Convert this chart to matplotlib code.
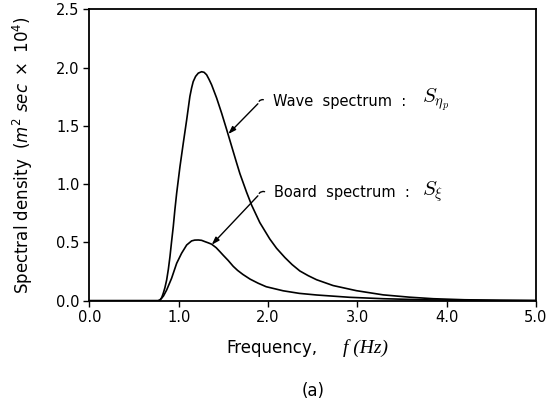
import matplotlib
matplotlib.use("Agg")
import matplotlib.pyplot as plt

# Wave spectrum S_eta_p (frequency in Hz, density in m^2 sec x 10^4)
wave_f = [0.0, 0.70, 0.77, 0.791, 0.81, 0.828, 0.846, 0.866, 0.885, 0.903,
          0.92, 0.94, 0.958, 0.978, 1.015, 1.052, 1.09, 1.126, 1.145, 1.163,
          1.19, 1.22, 1.257, 1.285, 1.313, 1.34, 1.369, 1.425, 1.481, 1.537,
          1.574, 1.611, 1.65, 1.686, 1.761, 1.817, 1.909, 2.02, 2.096, 2.19,
          2.27, 2.357, 2.45, 2.544, 2.729, 2.99, 3.29, 3.587, 3.85, 4.2, 4.6,
          5.0]
wave_s = [0.0, 0.0, 0.0, 0.006, 0.025, 0.064, 0.11, 0.178, 0.27, 0.378,
          0.50, 0.636, 0.78, 0.923, 1.151, 1.352, 1.552, 1.753, 1.825, 1.88,
          1.925, 1.953, 1.965, 1.96, 1.939, 1.90, 1.853, 1.74, 1.61, 1.47,
          1.375, 1.28, 1.18, 1.09, 0.93, 0.82, 0.67, 0.53, 0.45, 0.37,
          0.31, 0.255, 0.215, 0.18, 0.13, 0.086, 0.05, 0.03, 0.017, 0.008,
          0.004, 0.002]

# Board spectrum S_xi
board_f = [0.0, 0.70, 0.77, 0.79, 0.83, 0.866, 0.921, 0.978, 1.033, 1.09,
           1.145, 1.18, 1.22, 1.257, 1.294, 1.33, 1.369, 1.42, 1.462, 1.499,
           1.555, 1.611, 1.66, 1.72, 1.80, 1.89, 1.98, 2.17, 2.35, 2.544,
           2.916, 3.29, 3.8, 4.5, 5.0]
board_s = [0.0, 0.0, 0.0, 0.004, 0.04, 0.092, 0.192, 0.321, 0.407, 0.478,
           0.513, 0.52, 0.521, 0.518, 0.507, 0.497, 0.485, 0.455, 0.421, 0.39,
           0.345, 0.295, 0.26, 0.225, 0.185, 0.15, 0.12, 0.085, 0.063, 0.049,
           0.029, 0.017, 0.007, 0.002, 0.0]

x_ticks = [0.0, 1.0, 2.0, 3.0, 4.0, 5.0]
y_ticks = [0.0, 0.5, 1.0, 1.5, 2.0, 2.5]

plt.rcParams["font.family"] = ["DejaVu Sans"]
plt.rcParams["mathtext.fontset"] = "dejavusans"

fig = plt.figure(figsize=(5.56, 4.08), dpi=100)
ax = fig.add_axes([0.1606, 0.263, 0.8034, 0.714])

ax.plot(wave_f, wave_s, color="black", lw=1.2, solid_joinstyle="round")
ax.plot(board_f, board_s, color="black", lw=1.2, solid_joinstyle="round")

ax.set_xlim(0, 5)
ax.set_ylim(0, 2.5)
ax.set_xticks(x_ticks)
ax.set_yticks(y_ticks)
ax.set_xticklabels([f"{v:.1f}" for v in x_ticks])
ax.set_yticklabels([f"{v:.1f}" for v in y_ticks])
ax.tick_params(direction="out", length=4, width=1.0, labelsize=10.5,
               colors="black", pad=3)
for sp in ax.spines.values():
    sp.set_linewidth(1.3)

# Leader lines with a small hook next to each label
def leader(hook_start, hook_end, head):
    ax.annotate("", xy=hook_end, xytext=hook_start,
                arrowprops=dict(arrowstyle="-", lw=1.0, color="black",
                                connectionstyle="arc3,rad=-0.6"))
    ax.annotate("", xy=head, xytext=hook_start,
                arrowprops=dict(arrowstyle="-|>,head_length=0.45,head_width=0.15",
                                lw=1.0, color="black", shrinkA=0, shrinkB=0))

leader((1.887, 1.69), (1.977, 1.716), (1.555, 1.43))
leader((1.887, 0.90), (1.99, 0.925), (1.37, 0.48))

ax.text(2.055, 1.707, "Wave  spectrum  :", fontsize=10.5, va="center", ha="left")
ax.text(3.72, 1.72, r"$S_{\eta_p}$", fontsize=15, va="center", ha="left",
        math_fontfamily="cm")
ax.text(2.066, 0.925, "Board  spectrum  :", fontsize=10.5, va="center", ha="left")
ax.text(3.72, 0.935, r"$S_{\xi}$", fontsize=15, va="center", ha="left",
        math_fontfamily="cm")

# Axis titles
fig.text(0.041, 0.62, r"Spectral density  $\mathit{(m^2\ sec\ \times\ 10^4)}$",
         rotation=90, fontsize=12, ha="center", va="center")
fig.text(0.408, 0.147, "Frequency,", fontsize=12, ha="left", va="center")
fig.text(0.617, 0.147, "f (Hz)", fontsize=14, ha="left", va="center",
         family="Liberation Serif", style="italic")
fig.text(0.563, 0.042, "(a)", fontsize=12, ha="center", va="center")

fig.savefig("out.png", dpi=100)
